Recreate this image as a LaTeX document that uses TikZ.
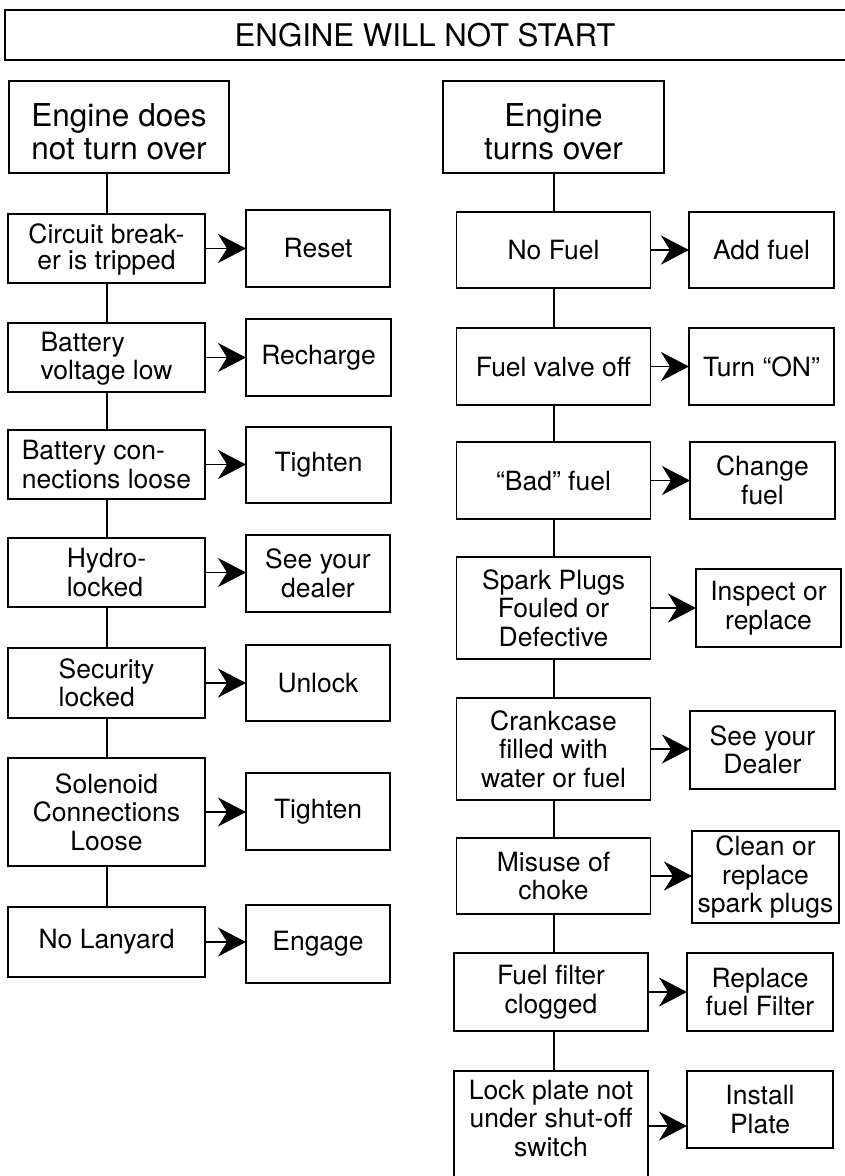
\documentclass[tikz,border=0pt]{standalone}
\usepackage{fontspec}
\setmainfont{TeX Gyre Heros}
\usetikzlibrary{arrows.meta}
\begin{document}
\begin{tikzpicture}[x=1pt,y=-1pt,
  every node/.style={inner sep=0pt, outer sep=0pt},
  box/.style={draw, line width=1.8pt, align=center, font=\fontsize{26.5}{28.5}\selectfont},
  lbox/.style={box, align=left},
  headbox/.style={draw, line width=1.8pt, align=center, font=\fontsize{31.5}{33}\selectfont},
  cause/.style={box, minimum width=197pt},
  rcause/.style={box, minimum width=194pt},
  act/.style={box, minimum width=144pt},
  ract/.style={box, minimum width=145pt},
  link/.style={line width=1.8pt},
  arr/.style={line width=1.8pt, -{Stealth[length=28pt,width=29pt,inset=9pt]}},
]
\useasboundingbox (0,0) rectangle (845,1176);
\clip (0,0) rectangle (845,1176);

% title
\draw[line width=2pt] (850,10) -| (5,60) -- (850,60);
\node[font=\fontsize{31.2}{33}\selectfont] (title) at (425,35) {ENGINE WILL NOT START};

\coordinate (lc) at (107,0);
\coordinate (rc) at (554,0);

% left column causes
\node[headbox, minimum width=220pt, minimum height=92pt] (lh) at (119,127) {\rule{0pt}{32pt}Engine does\\not turn over};
\node[cause, minimum height=69pt] (l1) at (106.5,248.5) {\rule{0pt}{22pt}Circuit break-\\[-2pt]er is tripped};
\node[cause, minimum height=69pt, lbox] (l2) at (106.5,357.5) {\rule{0pt}{22pt}Battery\\voltage low};
\node[cause, minimum height=69pt, lbox] (l3) at (106.5,464.5) {Battery con-\\nections loose};
\node[cause, minimum height=69pt, lbox] (l4) at (106.5,572.5) {Hydro-\\locked};
\node[cause, minimum height=70pt, lbox] (l5) at (106.5,683) {Security\\locked};
\node[cause, minimum height=108pt] (l6) at (106.5,812) {Solenoid\\Connections\\Loose};
\node[cause, minimum height=70pt] (l7) at (106.5,942) {No Lanyard};

% left column actions
\node[act, minimum height=77pt] (a1) at (318,248.5) {Reset};
\node[act, minimum height=77pt, minimum width=145pt] (a2) at (318.5,357.5) {Recharge};
\node[act, minimum height=76pt, minimum width=145pt] (a3) at (318.5,465) {Tighten};
\node[act, minimum height=77pt] (a4) at (318,573.5) {See your\\dealer};
\node[act, minimum height=76pt] (a5) at (318,683) {Unlock};
\node[act, minimum height=77pt] (a6) at (318,811.5) {Tighten};
\node[act, minimum height=78pt] (a7) at (318,944) {Engage};

% right column causes
\node[headbox, minimum width=221pt, minimum height=92pt] (rh) at (553.5,127) {\rule{0pt}{32pt}Engine\\turns over};
\node[rcause, minimum height=76pt] (r1) at (553.5,250) {No Fuel};
\node[rcause, minimum height=77pt] (r2) at (553.5,366.5) {Fuel valve off};
\node[rcause, minimum height=77pt] (r3) at (553.5,480.5) {“Bad” fuel};
\node[rcause, minimum height=102pt] (r4) at (553.5,608) {Spark Plugs\\Fouled or\\Defective};
\node[rcause, minimum height=102pt] (r5) at (553.5,749) {Crankcase\\filled with\\water or fuel};
\node[rcause, minimum height=76pt] (r6) at (553.5,876) {Misuse of\\choke};
\node[rcause, minimum height=78pt] (r7) at (551,992) {Fuel filter\\clogged};
\node[rcause, minimum height=110pt] (r8) at (551,1126) {Lock plate not\\under shut-off\\switch\rule[-16pt]{0pt}{1pt}};

% right column actions
\node[ract, minimum height=76pt] (s1) at (761.5,250) {Add fuel};
\node[ract, minimum height=77pt] (s2) at (761.5,366.5) {Turn “ON”};
\node[ract, minimum height=77pt] (s3) at (762.5,480.5) {Change\\fuel};
\node[ract, minimum height=78pt] (s4) at (768.5,608) {Inspect or\\replace};
\node[ract, minimum height=78pt] (s5) at (762.5,750) {See your\\Dealer};
\node[ract, minimum width=147pt, minimum height=92pt] (s6) at (765.5,877) {Clean or\\replace\\spark plugs};
\node[ract, minimum width=146pt, minimum height=78pt] (s7) at (760,992) {Replace\\fuel Filter};
\node[ract, minimum width=146pt, minimum height=77pt] (s8) at (760,1109.5) {Install\\Plate};

% vertical links
\draw[link] (lc |- lh.south) -- (lc |- l1.north);
\foreach \a/\b in {l1/l2,l2/l3,l3/l4,l4/l5,l5/l6,l6/l7}
  \draw[link] (lc |- \a.south) -- (lc |- \b.north);
\foreach \a/\b in {rh/r1,r1/r2,r2/r3,r3/r4,r4/r5,r5/r6,r6/r7,r7/r8}
  \draw[link] (rc |- \a.south) -- (rc |- \b.north);

% arrows
\foreach \a/\b in {l1/a1,l2/a2,l3/a3,l4/a4,l5/a5,l6/a6,l7/a7,r1/s1,r2/s2,r3/s3,r4/s4,r5/s5,r6/s6,r7/s7,r8/s8}
  \draw[arr] (\a.east) -- (\a.east -| \b.west);
\end{tikzpicture}
\end{document}
